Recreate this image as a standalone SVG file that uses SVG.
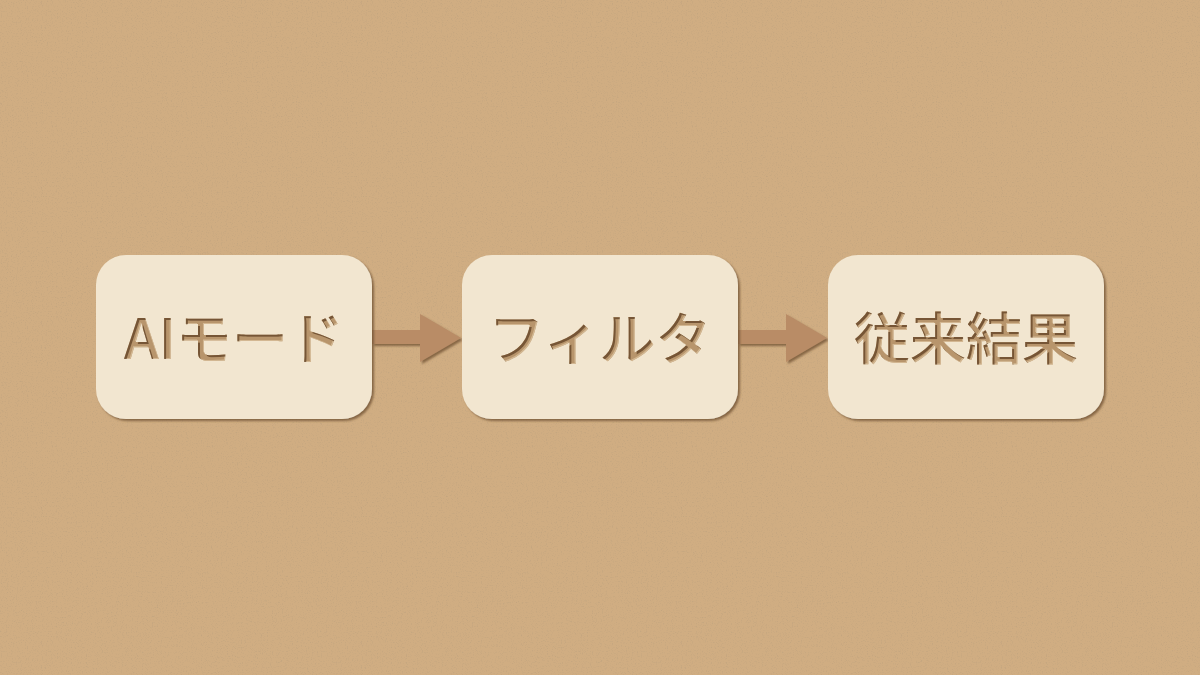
<svg xmlns="http://www.w3.org/2000/svg" width="1200" height="675" viewBox="0 0 1200 675">
<defs>
<filter id="paper" x="0" y="0" width="100%" height="100%">
<feTurbulence type="fractalNoise" baseFrequency="0.8" numOctaves="3" seed="4" result="n"/>
<feColorMatrix in="n" type="matrix" values="0 0 0 0 0.45  0 0 0 0 0.33  0 0 0 0 0.2  0 0 0 1.2 -0.62" result="spots"/>
<feComposite in="spots" in2="SourceGraphic" operator="over"/>
</filter>
<filter id="boxsh" x="-10%" y="-10%" width="120%" height="125%">
<feGaussianBlur in="SourceAlpha" stdDeviation="1"/>
<feOffset dx="1.5" dy="2.2" result="b"/>
<feFlood flood-color="#6e4f30" flood-opacity="0.75"/>
<feComposite in2="b" operator="in" result="s"/>
<feMerge><feMergeNode in="s"/><feMergeNode in="SourceGraphic"/></feMerge>
</filter>
<filter id="engrave" x="-5%" y="-10%" width="110%" height="120%">
<feOffset in="SourceAlpha" dx="1.8" dy="1.8" result="off"/>
<feComposite in="SourceAlpha" in2="off" operator="out" result="edge"/>
<feFlood flood-color="#6b4a2c" flood-opacity="0.9"/>
<feComposite in2="edge" operator="in" result="dark"/>
<feOffset in="SourceAlpha" dx="-1" dy="-1" result="off2"/>
<feComposite in="SourceAlpha" in2="off2" operator="out" result="edge2"/>
<feFlood flood-color="#d9bf9a" flood-opacity="0.8"/>
<feComposite in2="edge2" operator="in" result="light"/>
<feMerge><feMergeNode in="SourceGraphic"/><feMergeNode in="light"/><feMergeNode in="dark"/></feMerge>
</filter>
</defs>
<style>
.box{fill:#f2e6d0;}
.lbl{font-family:"Noto Sans CJK JP","Noto Sans",sans-serif;font-size:56px;font-weight:500;fill:#b8956c;text-anchor:middle;}
.arr{fill:#b98c66;}
</style>
<rect width="1200" height="675" fill="#d0ad82" filter="url(#paper)"/>
<g id="connectors" filter="url(#boxsh)">
<path class="arr" d="M372 330 H420 V314 L461 338 L420 362 V344 H372 Z"/>
<path class="arr" d="M738 330 H786 V314 L827 338 L786 362 V344 H738 Z"/>
</g>
<g id="node-ai">
<rect class="box" x="96" y="255" width="276" height="164" rx="30" filter="url(#boxsh)"/>
<text class="lbl" x="234" y="359" filter="url(#engrave)">AIモード</text>
</g>
<g id="node-filter">
<rect class="box" x="462" y="255" width="276" height="164" rx="30" filter="url(#boxsh)"/>
<text class="lbl" x="600" y="359" filter="url(#engrave)">フィルタ</text>
</g>
<g id="node-result">
<rect class="box" x="828" y="255" width="276" height="164" rx="30" filter="url(#boxsh)"/>
<text class="lbl" x="966" y="359" filter="url(#engrave)">従来結果</text>
</g>
</svg>
